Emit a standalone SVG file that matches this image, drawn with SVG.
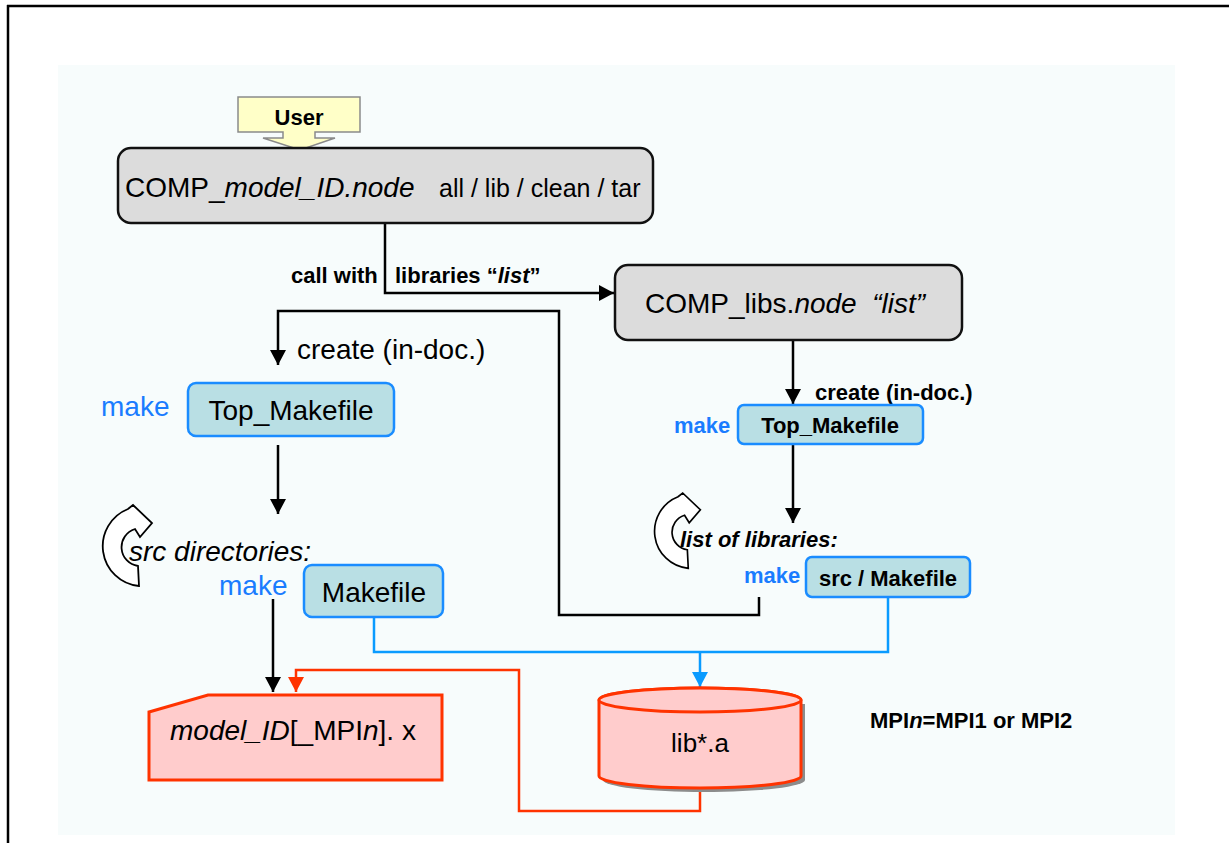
<svg xmlns="http://www.w3.org/2000/svg" width="1229" height="843" viewBox="0 0 1229 843">
<style>
text{font-family:"Liberation Sans",Arial,sans-serif;fill:#000;white-space:pre}
.big{font-size:28px}
.bold{font-size:22px;font-weight:bold}
.blue{fill:#1a7cff}
.it{font-style:italic}
.gray{fill:#dcdcdc;stroke:#111;stroke-width:2.5}
.cyan{fill:#b9dfe4;stroke:#1a8cff;stroke-width:2.5}
.red{fill:#ffcccc;stroke:#ff3300;stroke-width:3}
.ln{fill:none;stroke:#000;stroke-width:2.5}
.lnb{fill:none;stroke:#0a9bff;stroke-width:2.5}
.lnr{fill:none;stroke:#ff3300;stroke-width:2.5}
</style>
<defs>
<marker id="ab" markerUnits="userSpaceOnUse" markerWidth="16" markerHeight="16" refX="15" refY="8" orient="auto"><path d="M0,0 L15,8 L0,16 z" fill="#000"/></marker>
<marker id="abl" markerUnits="userSpaceOnUse" markerWidth="16" markerHeight="16" refX="15" refY="8" orient="auto"><path d="M0,0 L15,8 L0,16 z" fill="#0a9bff"/></marker>
<marker id="ar" markerUnits="userSpaceOnUse" markerWidth="16" markerHeight="16" refX="15" refY="8" orient="auto"><path d="M0,0 L15,8 L0,16 z" fill="#ff3300"/></marker>
<path id="loop" d="M39,81 A40,40 0 0 1 28,4 L33,0 L52,18 L40,32 L35,24 A19,19 0 0 0 38,61 Z" fill="#fff" stroke="#000" stroke-width="1.8"/>
</defs>
<g id="frame">
<line x1="7" y1="6" x2="1229" y2="6" stroke="#000" stroke-width="2.5"/>
<line x1="8" y1="5" x2="8" y2="843" stroke="#000" stroke-width="2.5"/>
<rect x="58" y="65" width="1117" height="770" fill="#f7fcfc"/>
</g>
<g id="connectors">
<path class="ln" d="M385,224 V293 H614" marker-end="url(#ab)"/>
<path class="ln" d="M793,340 V404" marker-end="url(#ab)"/>
<path class="ln" d="M793,444 V523" marker-end="url(#ab)"/>
<path class="ln" d="M759,597 V615 H559 V311 H278 V365" marker-end="url(#ab)"/>
<path class="ln" d="M278,445 V514" marker-end="url(#ab)"/>
<path class="ln" d="M273,599 V692" marker-end="url(#ab)"/>
<path class="lnr" d="M700,787 V811 H519 V670 H296 V692" marker-end="url(#ar)"/>
<path class="lnb" d="M374,617 V652 H888 V597"/>
<path class="lnb" d="M700,652 V687" marker-end="url(#abl)"/>
</g>
<g id="labels">
<text class="bold" x="291" y="283">call with</text>
<text class="bold" x="395" y="283">libraries “<tspan class="it">list</tspan>”</text>
<text class="big" x="297" y="359">create (in-doc.)</text>
<text class="bold" x="815" y="400">create (in-doc.)</text>
<use href="#loop" transform="translate(100,505)"/>
<text class="big it" x="129" y="561">src directories:</text>
<use href="#loop" transform="translate(652,493) scale(0.93)"/>
<text class="bold it" x="680" y="547">list of libraries:</text>
<text class="bold" x="870" y="728">MPI<tspan class="it">n</tspan>=MPI1 or MPI2</text>
</g>
<g id="user">
<polygon points="238,97 360,97 360,132 315,132 315,138 335,138 300,150 263,138 283,138 283,132 238,132" fill="#ffffc8" stroke="#8a8a8a" stroke-width="1.5"/>
<text class="bold" x="299" y="125" text-anchor="middle">User</text>
</g>
<g id="comp-model">
<rect class="gray" x="118" y="148" width="535" height="75" rx="13"/>
<text class="big" x="125" y="197">COMP_<tspan class="it">model_ID.node</tspan></text>
<text x="439" y="197" font-size="25">all / lib / clean / tar</text>
</g>
<g id="comp-libs">
<rect class="gray" x="615" y="265" width="347" height="75" rx="13"/>
<text class="big" x="645" y="313">COMP_libs.<tspan class="it">node  “list”</tspan></text>
</g>
<g id="top-makefile-left">
<text class="big blue" x="101" y="416">make</text>
<rect class="cyan" x="188" y="383" width="206" height="53" rx="8"/>
<text class="big" x="291" y="420" text-anchor="middle">Top_Makefile</text>
</g>
<g id="top-makefile-right">
<text class="bold blue" x="674" y="433">make</text>
<rect class="cyan" x="738" y="405" width="185" height="39" rx="6"/>
<text class="bold" x="830" y="433" text-anchor="middle">Top_Makefile</text>
</g>
<g id="makefile-left">
<text class="big blue" x="219" y="595">make</text>
<rect class="cyan" x="304" y="565" width="139" height="52" rx="8"/>
<text class="big" x="374" y="602" text-anchor="middle">Makefile</text>
</g>
<g id="src-makefile">
<text class="bold blue" x="744" y="583">make</text>
<rect class="cyan" x="806" y="557" width="164" height="40" rx="6"/>
<text class="bold" x="888" y="586" text-anchor="middle">src / Makefile</text>
</g>
<g id="model-exe">
<polygon class="red" points="149,712 208,695 442,695 442,780 149,780"/>
<text class="big" x="170" y="740"><tspan class="it">model_ID</tspan>[_MPI<tspan class="it">n</tspan>]. x</text>
</g>
<g id="lib-a">
<path d="M601,702 V778 A101,12 0 0 0 803,778 V702 Z" fill="#8c8c8c" transform="translate(2,2)"/>
<path class="red" d="M599,700 V776 A101,12 0 0 0 801,776 V700 A101,12 0 0 0 599,700 Z"/>
<ellipse class="red" cx="700" cy="700" rx="101" ry="12"/>
<text x="700" y="752" font-size="26" text-anchor="middle">lib*.a</text>
</g>
</svg>
